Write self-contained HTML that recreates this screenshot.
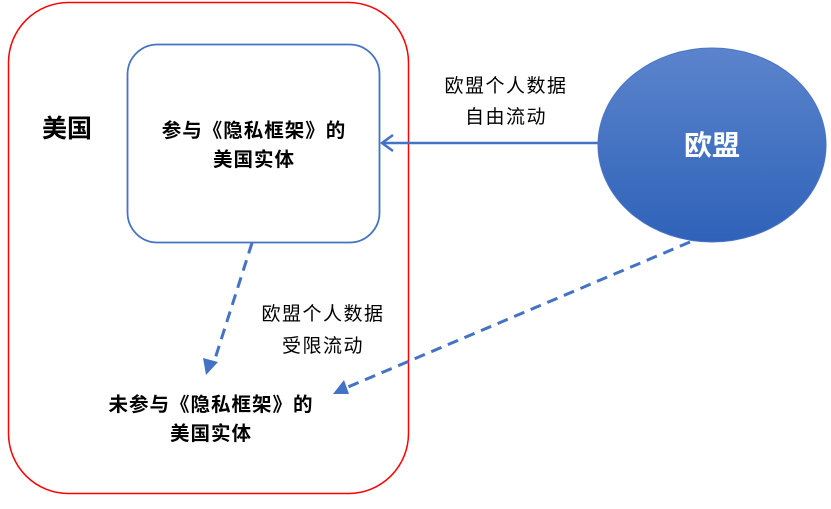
<!DOCTYPE html>
<html><head><meta charset="utf-8"><style>
html,body{margin:0;padding:0;background:#fff;}
svg text{font-family:"Liberation Sans","Noto Sans CJK SC",sans-serif;}
</style></head><body>
<svg width="831" height="504" viewBox="0 0 831 504" xmlns="http://www.w3.org/2000/svg">
<defs>
<linearGradient id="g" x1="0" y1="0" x2="0" y2="1">
<stop offset="0" stop-color="#5b84cc"/><stop offset="1" stop-color="#2f62b9"/>
</linearGradient>
</defs>
<rect x="8.5" y="2.5" width="400" height="491" rx="60" fill="none" stroke="#ff0000" stroke-width="1.5"/>
<rect x="127.5" y="44.5" width="252" height="198" rx="30" fill="#fff" stroke="#4472c4" stroke-width="1.8"/>
<ellipse cx="712" cy="145" rx="114" ry="97" fill="url(#g)" stroke="#4a74c4" stroke-width="1"/>
<text x="712" y="155" text-anchor="middle" fill="#fff" font-size="28" font-weight="bold">欧盟</text>
<text x="67" y="137" text-anchor="middle" font-size="25" font-weight="bold" fill="#000">美国</text>
<g font-size="19.5" font-weight="bold" fill="#000" text-anchor="middle" letter-spacing="1">
<text x="254" y="137">参与《隐私框架》的</text>
<text x="254" y="166">美国实体</text>
<text x="211" y="411">未参与《隐私框架》的</text>
<text x="211" y="440">美国实体</text>
</g>
<g font-size="19" fill="#000" text-anchor="middle" letter-spacing="1.5">
<text x="506" y="92">欧盟个人数据</text>
<text x="506" y="123">自由流动</text>
<text x="323" y="320">欧盟个人数据</text>
<text x="323" y="352">受限流动</text>
</g>
<line x1="598" y1="143" x2="384" y2="143" stroke="#4472c4" stroke-width="2.5"/>
<polyline points="393,135 382,143 393,151" fill="none" stroke="#4472c4" stroke-width="2.5"/>
<line x1="252" y1="243" x2="214" y2="362" stroke="#4472c4" stroke-width="3" stroke-dasharray="11,7"/>
<polygon points="206,375 203,358 218,362" fill="#4472c4"/>
<line x1="690" y1="242" x2="348" y2="387" stroke="#4472c4" stroke-width="3" stroke-dasharray="11,7"/>
<polygon points="333,394 344,380 349,394" fill="#4472c4"/>
</svg>
</body></html>
